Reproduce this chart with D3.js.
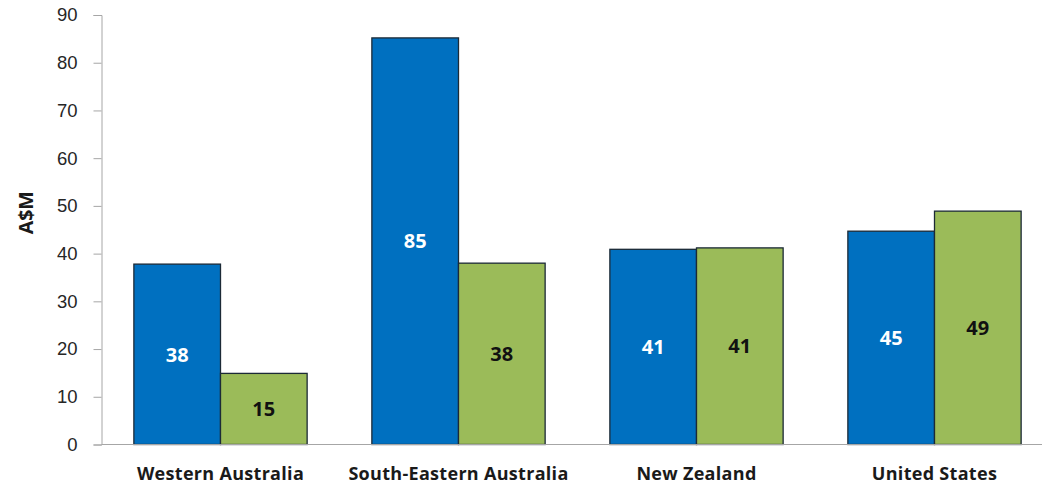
<!DOCTYPE html>
<html>
<head>
<meta charset="utf-8">
<script src="https://cdn.jsdelivr.net/npm/d3@7/dist/d3.min.js"></script>
<style>
  html, body { margin: 0; padding: 0; background: #fff; }
  svg { display: block; font-family: "Open Sans", "Liberation Sans", sans-serif; }
</style>
</head>
<body>
<svg id="chart" width="1042" height="486"></svg>
<script>
// Regions and the two spending series (A$ millions)
const regions = ["Western Australia", "South-Eastern Australia", "New Zealand", "United States"];
const seriesBlue = [37.8, 85.2, 40.9, 44.7];
const seriesGreen = [14.9, 38.0, 41.2, 48.9];
const yTicks = [0, 10, 20, 30, 40, 50, 60, 70, 80, 90];

const svg = d3.select("#chart");
const plotLeft = 101.5, plotRight = 1053.5, plotTop = 15, plotBottom = 444.5;

const x = d3.scaleBand().domain(regions).range([plotLeft, plotRight])
  .paddingInner(0.272).paddingOuter(0.136);
const sub = d3.scaleBand().domain([0, 1]).range([0, x.bandwidth()]);
const y = d3.scaleLinear().domain([0, 90]).range([plotBottom, plotTop]);

// Y axis
const yAxis = svg.append("g").attr("transform", `translate(${plotLeft},0)`)
  .call(d3.axisLeft(y).tickValues(yTicks).tickSize(8).tickPadding(16));
yAxis.select(".domain").attr("stroke", "#a6a6a6");
yAxis.selectAll(".tick line").attr("stroke", "#a6a6a6");
yAxis.selectAll(".tick text").attr("font-size", 18.5).attr("fill", "#262626")
  .style("font-family", "inherit");

// Y axis title
svg.append("text")
  .attr("transform", `translate(33,${(plotTop + plotBottom) / 2 - 17}) rotate(-90)`)
  .attr("text-anchor", "middle")
  .attr("font-size", 19.5).attr("font-weight", "bold").attr("fill", "#1a1a1a")
  .text("A$M");

// Bars
const groups = svg.append("g").selectAll("g").data(regions).join("g")
  .attr("transform", d => `translate(${x(d)},0)`);

const fmt = d3.format(".0f");
const series = [
  { values: seriesBlue, fill: "#0070c0", label: "#ffffff" },
  { values: seriesGreen, fill: "#9bbb59", label: "#111111" }
];

series.forEach((s, si) => {
  groups.append("rect")
    .attr("x", sub(si))
    .attr("width", sub.bandwidth())
    .attr("y", (d, i) => y(s.values[i]))
    .attr("height", (d, i) => plotBottom - y(s.values[i]))
    .attr("fill", s.fill)
    .attr("stroke", "#1c2a36")
    .attr("stroke-width", 1.3);
  groups.append("text")
    .attr("x", sub(si) + sub.bandwidth() / 2)
    .attr("y", (d, i) => (y(s.values[i]) + plotBottom) / 2)
    .attr("dy", "0.36em")
    .attr("text-anchor", "middle")
    .attr("font-size", 20).attr("font-weight", "bold")
    .attr("fill", s.label)
    .text((d, i) => fmt(s.values[i]));
});

// X axis baseline and category labels
svg.append("line")
  .attr("x1", plotLeft).attr("x2", 1042)
  .attr("y1", plotBottom).attr("y2", plotBottom)
  .attr("stroke", "#a6a6a6");

svg.append("g").selectAll("text").data(regions).join("text")
  .attr("x", d => x(d) + x.bandwidth() / 2)
  .attr("y", 480)
  .attr("text-anchor", "middle")
  .attr("font-size", 18).attr("font-weight", "bold").attr("fill", "#1a1a1a")
  .attr("letter-spacing", 0.3)
  .text(d => d);
</script>
</body>
</html>
